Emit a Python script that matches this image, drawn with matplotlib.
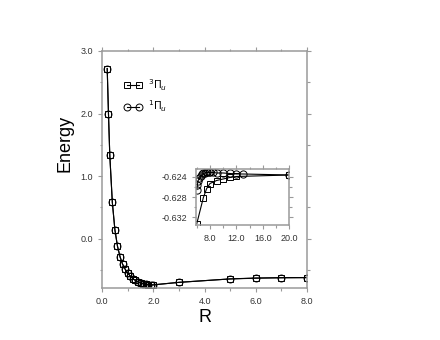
import matplotlib
matplotlib.use('Agg')
import matplotlib.pyplot as plt
from matplotlib.ticker import MultipleLocator, FormatStrFormatter

plt.rcParams['font.family'] = ['Liberation Sans', 'DejaVu Sans']

# main panel data (both states nearly coincide)
r_main = [0.2, 0.25, 0.3, 0.4, 0.5, 0.6, 0.7, 0.8, 0.9, 1.0, 1.1, 1.2, 1.3, 1.4,
          1.5, 1.6, 1.7, 1.8, 1.9, 2.0, 3.0, 5.0, 6.0, 7.0, 8.0]
e_triplet = [2.72, 1.99, 1.34, 0.58, 0.14, -0.12, -0.29, -0.41, -0.49, -0.55, -0.60,
             -0.64, -0.67, -0.69, -0.71, -0.72, -0.73, -0.735, -0.74, -0.74, -0.70,
             -0.645, -0.634, -0.628, -0.625]
e_singlet = [2.72, 1.99, 1.34, 0.58, 0.14, -0.12, -0.29, -0.41, -0.49, -0.55, -0.60,
             -0.64, -0.67, -0.69, -0.71, -0.72, -0.73, -0.735, -0.74, -0.74, -0.70,
             -0.645, -0.630, -0.624, -0.623]

# inset data (large R)
r_in_triplet = [6.0, 7.0, 7.5, 8.0, 9.0, 10.0, 11.0, 12.0, 20.0]
e_in_triplet = [-0.6333, -0.6281, -0.6263, -0.6253, -0.6247, -0.6244, -0.6241,
                -0.6239, -0.6236]
r_in_singlet = [6.0, 6.1, 6.2, 6.4, 6.6, 6.8, 7.0, 7.2, 7.4, 7.6, 7.8, 8.0, 8.5,
                9.0, 10.0, 11.0, 12.0, 13.0, 20.0]
e_in_singlet = [-0.6265, -0.6255, -0.6247, -0.6243, -0.6238, -0.6235, -0.6233,
                -0.6232, -0.6231, -0.6231, -0.6231, -0.6231, -0.6231, -0.6232,
                -0.6232, -0.6233, -0.6234, -0.6234, -0.6236]

spine_col = '#9a9a9a'

def style_axes(ax, size):
    for s in ax.spines.values():
        s.set_color(spine_col)
        s.set_linewidth(1.1)
    ax.tick_params(which='both', direction='out', color=spine_col, width=0.8,
                   top=True, right=True, labelsize=size, labelcolor='#333333')
    ax.tick_params(which='major', length=3)
    ax.tick_params(which='minor', length=1.8)

fig = plt.figure(figsize=(4.4, 3.4), dpi=100)
ax = fig.add_axes([0.232, 0.153, 0.466, 0.697])
ax.plot(r_main, e_triplet, color='black', lw=0.8, marker='s', ms=4.2,
        mfc='none', mec='black', mew=0.7, label=r'$^3\Pi_u$')
ax.plot(r_main, e_singlet, color='black', lw=0.8, marker='o', ms=5,
        mfc='none', mec='black', mew=0.7, label=r'$^1\Pi_u$')
ax.set_xlim(0, 8)
ax.set_ylim(-0.79, 3.0)
ax.xaxis.set_major_locator(MultipleLocator(2))
ax.xaxis.set_minor_locator(MultipleLocator(1))
ax.yaxis.set_major_locator(MultipleLocator(1))
ax.yaxis.set_minor_locator(MultipleLocator(0.5))
ax.xaxis.set_major_formatter(FormatStrFormatter('%.1f'))
ax.yaxis.set_major_formatter(FormatStrFormatter('%.1f'))
style_axes(ax, 6.5)
ax.set_xlabel('R', fontsize=13, labelpad=2)
fig.text(65 / 440, 1 - 143 / 340, 'Energy', rotation=90, fontsize=13,
         ha='center', va='center')
ax.legend(loc='upper left', bbox_to_anchor=(0.06, 0.93), frameon=False,
          numpoints=2, handlelength=1.75, handletextpad=0.6, labelspacing=0.6,
          fontsize=7.5)

ins = fig.add_axes([0.445, 0.338, 0.212, 0.165])
ins.plot(r_in_triplet, e_in_triplet, color='black', lw=0.8, marker='s', ms=4.5,
         mfc='none', mec='black', mew=0.7)
ins.plot(r_in_singlet, e_in_singlet, color='black', lw=0.8, marker='o', ms=5.2,
         mfc='none', mec='black', mew=0.7)
ins.set_xlim(5.85, 20)
ins.set_ylim(-0.6336, -0.6224)
ins.xaxis.set_major_locator(MultipleLocator(4))
ins.xaxis.set_minor_locator(MultipleLocator(2))
ins.yaxis.set_major_locator(MultipleLocator(0.004))
ins.yaxis.set_minor_locator(MultipleLocator(0.002))
ins.xaxis.set_major_formatter(FormatStrFormatter('%.1f'))
ins.yaxis.set_major_formatter(FormatStrFormatter('%.3f'))
style_axes(ins, 6.5)

fig.savefig('out.png', dpi=100)
